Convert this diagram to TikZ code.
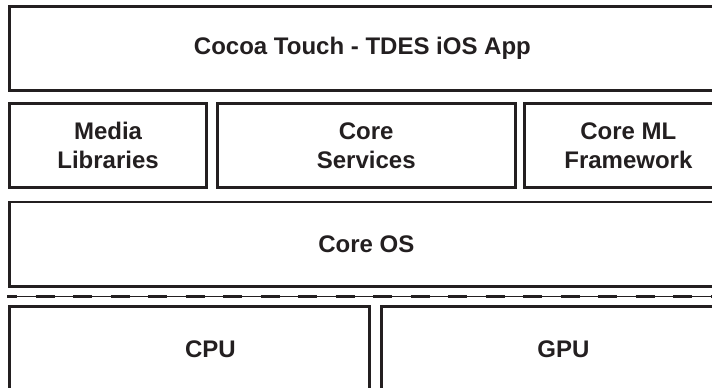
\documentclass[tikz,border=0pt]{standalone}
\usepackage{fontspec}
\setmainfont{Liberation Sans}
\usepackage{xcolor}
\usetikzlibrary{positioning}
\definecolor{inkdark}{HTML}{231F20}

\begin{document}
\begin{tikzpicture}[
    x=1pt, y=-1pt,
    layer/.style={rectangle, draw=inkdark, line width=2.8pt, minimum height=84pt, inner sep=0pt, align=center, anchor=north west}, % one box of the stack
    divider/.style={inkdark, line width=2.8pt, dash pattern=on 19pt off 18.5pt, dash phase=9pt},
    every node/.append style={font=\fontsize{24}{29}\selectfont\bfseries, text=inkdark}
]
\useasboundingbox (0,0) rectangle (712,388);

% Top Section: App
\node[layer, minimum width=706pt, minimum height=84.6pt] at (8,4.7) (cocoa) {Cocoa Touch - TDES iOS App};

% Second Row: Media, Services, Core ML
\node[layer, minimum width=197.3pt] at (8,102.3) (media) 		{Media\\Libraries};
\node[layer, minimum width=298.3pt, right=7.6pt of media] (services) 	{Core\\Services};
\node[layer, minimum width=208pt, right=6.2pt of services] (coreml) 	{Core ML\\Framework};

% Middle Section: Core OS
\node[layer, minimum width=714pt, minimum height=84.2pt] at (8,200.5) (coreos) {Core OS};

% Hardware / software boundary
\coordinate (sepL) at (7,296.7);
\coordinate (sepR) at (712,296.7);
\draw[inkdark, line width=0.8pt] (sepL) -- (sepR);
\draw[divider] (sepL) -- (sepR);

% Bottom Section: CPU, GPU
\node[layer, minimum width=360pt, minimum height=85pt, label={[xshift=21pt]center:CPU}] at (8,305) (cpu) {};
\node[layer, minimum width=364pt, minimum height=85pt, right=9.2pt of cpu] (gpu) {GPU};

\end{tikzpicture}
\end{document}
